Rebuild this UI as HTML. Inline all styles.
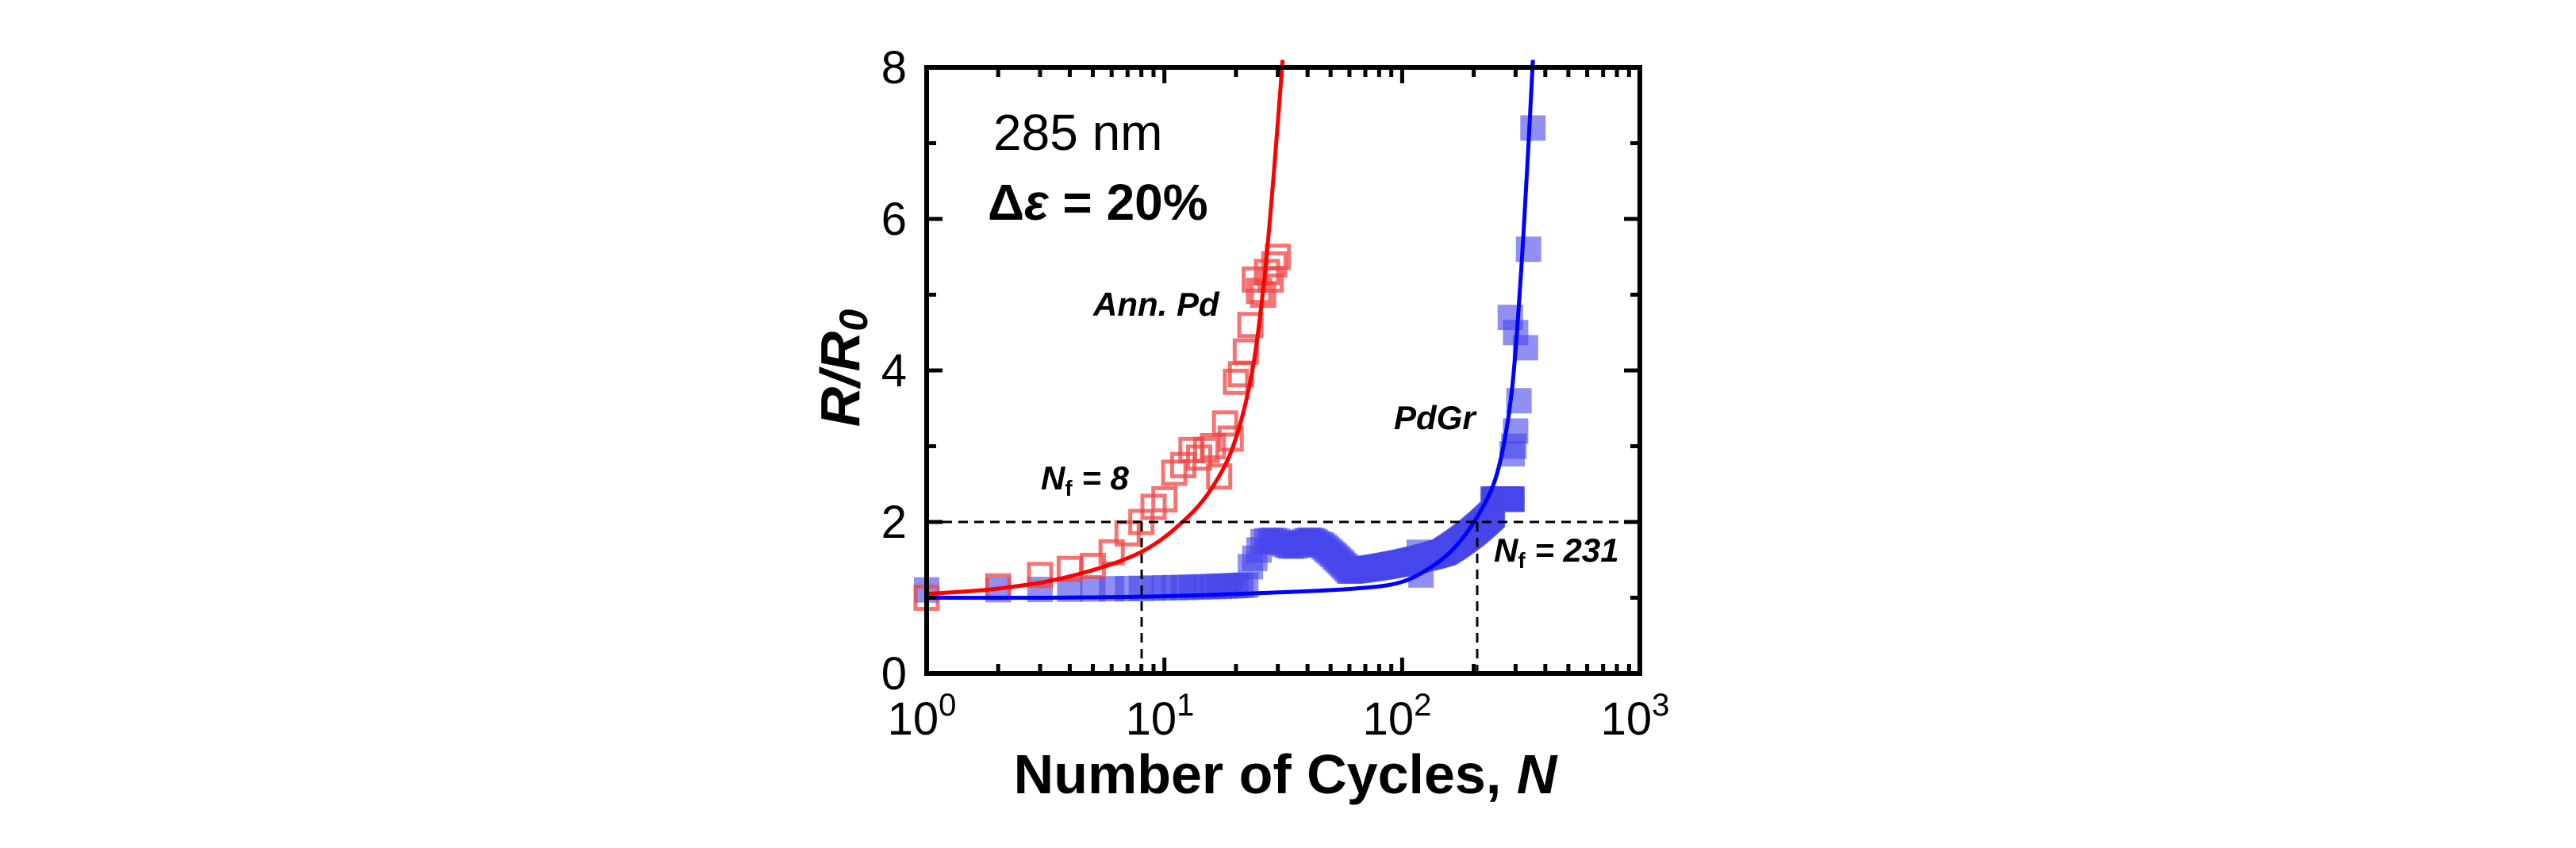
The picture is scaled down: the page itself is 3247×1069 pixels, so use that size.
<!DOCTYPE html>
<html><head><meta charset="utf-8"><style>
html,body{margin:0;padding:0;background:#fff;}
svg{display:block;font-family:"Liberation Sans",Arial,sans-serif;}
</style></head><body>
<svg id="s" width="3247" height="1069" viewBox="0 0 3247 1069" xmlns="http://www.w3.org/2000/svg">
<rect width="3247" height="1069" fill="#fff"/>
<g id="data"></g>
<g id="curves"></g>
<line x1="1168" y1="658" x2="2067" y2="658" stroke="#000" stroke-width="3" stroke-dasharray="12,8"/>
<line x1="1439" y1="658" x2="1439" y2="849" stroke="#000" stroke-width="3" stroke-dasharray="12,8"/>
<line x1="1862" y1="658" x2="1862" y2="849" stroke="#000" stroke-width="3" stroke-dasharray="12,8"/>
<g id="ticks" stroke="#000" stroke-width="5"></g>
<rect x="1168" y="85" width="899" height="764" fill="none" stroke="#000" stroke-width="6"/>
<g font-size="58" text-anchor="end">
<text x="1143" y="869">0</text><text x="1143" y="678">2</text><text x="1143" y="487">4</text><text x="1143" y="296">6</text><text x="1143" y="105">8</text>
</g>
<g font-size="58" text-anchor="middle">
<text x="1162" y="926">10<tspan dy="-24" font-size="40">0</tspan></text>
<text x="1462" y="926">10<tspan dy="-24" font-size="40">1</tspan></text>
<text x="1761" y="926">10<tspan dy="-24" font-size="40">2</tspan></text>
<text x="2061" y="926">10<tspan dy="-24" font-size="40">3</tspan></text>
</g>
<text x="1620" y="1000" font-size="70" font-weight="bold" text-anchor="middle">Number of Cycles, <tspan font-style="italic">N</tspan></text>
<text transform="translate(1083,464) rotate(-90)" font-size="70" font-weight="bold" font-style="italic" text-anchor="middle">R/R<tspan dy="10" font-size="50">0</tspan></text>
<text x="1252" y="189" font-size="64">285 nm</text>
<text x="1245" y="277" font-size="64" font-weight="bold">Δ<tspan font-style="italic">ε</tspan> = 20%</text>
<text x="1378" y="398" font-size="42" font-weight="bold" font-style="italic">Ann. Pd</text>
<text x="1757" y="541" font-size="42" font-weight="bold" font-style="italic">PdGr</text>
<text x="1312" y="617" font-size="42" font-weight="bold" font-style="italic">N<tspan font-size="28" dy="8" font-style="normal">f</tspan><tspan dy="-8"> = 8</tspan></text>
<text x="1883" y="708" font-size="42" font-weight="bold" font-style="italic">N<tspan font-size="28" dy="8" font-style="normal">f</tspan><tspan dy="-8"> = 231</tspan></text>
</svg>
<script>
var NS="http://www.w3.org/2000/svg";
function X(n){return 1168+Math.log10(n)*299.7;}
function Y(r){return 849-r*95.5;}
function el(p,t,a){var e=document.createElementNS(NS,t);for(var k in a)e.setAttribute(k,a[k]);p.appendChild(e);return e;}
var tk=document.getElementById('ticks');
for(var d=0;d<3;d++)for(var m=1;m<10;m++){var x=X(Math.pow(10,d)*m);var L=(m==1)?20:12;
 if(m==1&&d==0)continue;
 el(tk,'line',{x1:x,y1:849,x2:x,y2:849-L});el(tk,'line',{x1:x,y1:85,x2:x,y2:85+L});}
for(var r=1;r<8;r++){var y=Y(r);var L=(r%2==0)?20:12;
 el(tk,'line',{x1:1168,y1:y,x2:1168+L,y2:y});el(tk,'line',{x1:2067,y1:y,x2:2067-L,y2:y});}
var dg=document.getElementById('data');
function B(N){
 if(N<=22)return 1.1+0.003*N;
 if(N<=26)return 1.3+(N-22)*0.11;
 if(N<=45)return 1.72+0.04*Math.sin(N/2);
 if(N<=60)return 1.72-(N-45)/15*0.37;
 if(N<=150)return 1.35+(N-60)/90*0.25;
 if(N<=240)return 1.6+(N-150)/90*0.5;
 return 2.3;}
var s=32, bc='rgba(70,70,235,0.6)';
for(var N=1;N<=290;N++){el(dg,'rect',{x:X(N)-s/2,y:Y(B(N))-s/2,width:s,height:s,fill:bc});}
[[120,1.3],[118,1.6],[290,2.9],[300,3.2],[310,3.6],[285,4.7],[300,4.5],[330,4.3],[340,5.6],[355,7.2],[295,3.0]].forEach(function(p){
 el(dg,'rect',{x:X(p[0])-s/2,y:Y(p[1])-s/2,width:s,height:s,fill:bc});});
[[1,1.0],[2,1.15],[3,1.3],[4,1.38],[5,1.42],[6,1.6],[7,1.85],[8,2.0],[9,2.2],[10,2.3],[11,2.65],[12,2.75],[13,2.95],[14,2.85],[15,2.95],[16,3.0],[17,2.6],[18,3.3],[19,3.1],[20,3.85],[21,3.95],[22,4.25],[23,4.6],[24,5.2],[25,5.05],[26,5.0],[27,5.3],[28,5.2],[29,5.4],[30,5.5]].forEach(function(p){
 el(dg,'rect',{x:X(p[0])-14,y:Y(p[1])-14,width:28,height:28,fill:'none',stroke:'rgba(240,70,70,0.75)','stroke-width':5});});
var cg=document.getElementById('curves');
function cr(pts,col){
 var P=pts.map(function(p){return [1168+p[0]*299.7,Y(p[1])];});
 var d='M'+P[0][0]+','+P[0][1];
 for(var i=0;i<P.length-1;i++){var p0=P[i-1]||P[i],p1=P[i],p2=P[i+1],p3=P[i+2]||P[i+1];
  d+='C'+(p1[0]+(p2[0]-p0[0])/6).toFixed(1)+','+(p1[1]+(p2[1]-p0[1])/6).toFixed(1)+' '+(p2[0]-(p3[0]-p1[0])/6).toFixed(1)+','+(p2[1]-(p3[1]-p1[1])/6).toFixed(1)+' '+p2[0].toFixed(1)+','+p2[1].toFixed(1);}
 el(cg,'path',{d:d,fill:'none',stroke:col,'stroke-width':5});}
cr([[0,1.05],[0.3,1.12],[0.6,1.28],[0.9,1.6],[1.1,2.07],[1.22,2.55],[1.3,3.1],[1.37,4.0],[1.42,5.2],[1.46,6.6],[1.485,7.6],[1.497,8.1]],'#ff0000');
cr([[0,1.0],[0.5,1.0],[1.0,1.02],[1.48,1.07],[1.8,1.12],[1.99,1.2],[2.12,1.4],[2.22,1.66],[2.316,2.07],[2.40,2.65],[2.46,3.7],[2.5,5.3],[2.53,6.9],[2.55,8.1]],'#0000ff');
</script>
</body></html>
